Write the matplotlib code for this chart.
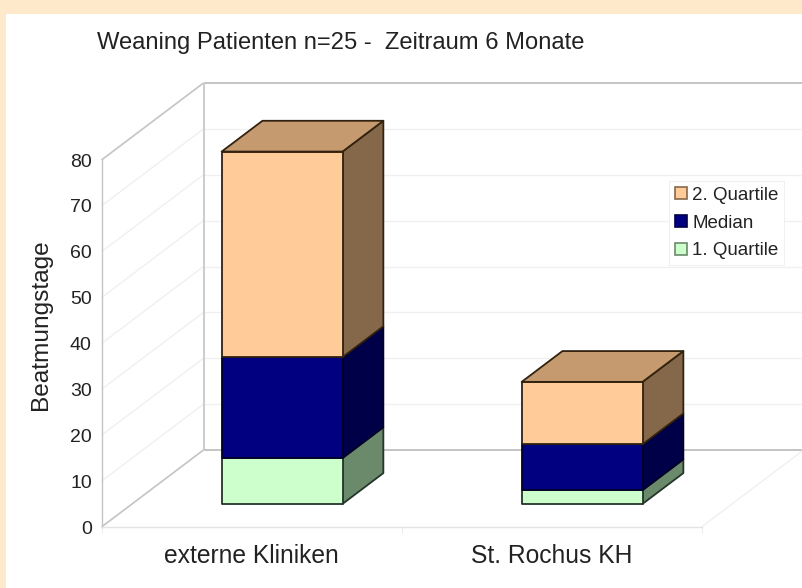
import matplotlib.pyplot as plt
from matplotlib.patches import Patch, Rectangle

plt.rcParams['font.family'] = ['Liberation Sans', 'DejaVu Sans']

# Daten
kliniken = ["externe Kliniken", "St. Rochus KH"]
serien = ["1. Quartile", "Median", "2. Quartile"]
quartil1 = [10, 3]
median = [22, 10]
quartil2 = [44.8, 13.6]
y_ticks = [0, 10, 20, 30, 40, 50, 60, 70, 80]

# Farben: Front, Deckel, Seite, Kante
FARBEN = {
    "1. Quartile": ("#CCFFCC", "#A3CCA3", "#6B8A6B", "#24352A"),
    "Median": ("#000080", "#000066", "#000048", "#000028"),
    "2. Quartile": ("#FFCC99", "#C49A6E", "#85684A", "#33220F"),
}
RAHMEN = "#FFE9CB"
WAND = "#C4C4C4"
GITTER = "#F0F0F0"

# Schraegprojektion: Tiefe 1 = 102 px nach rechts, 77 px nach oben
TIEFE_X = 102 / 300
TIEFE_Y = 77 / 367 * 80


def proj(x, y, d):
    return x + d * TIEFE_X, y + d * TIEFE_Y


def linie(ax, p1, p2, color, lw=1.0, z=1):
    ax.plot([p1[0], p2[0]], [p1[1], p2[1]], color=color, lw=lw, clip_on=False,
            zorder=z, solid_capstyle="butt")


def flaeche(ax, punkte, farbe, kante):
    xs = [p[0] for p in punkte]
    ys = [p[1] for p in punkte]
    ax.fill(xs, ys, facecolor=farbe, edgecolor=kante, lw=1.3, clip_on=False,
            zorder=3, joinstyle="round")


def quader(ax, x0, x1, y0, y1, d0, d1, name, deckel):
    front, top, seite, kante = FARBEN[name]
    flaeche(ax, [proj(x1, y0, d0), proj(x1, y0, d1), proj(x1, y1, d1), proj(x1, y1, d0)], seite, kante)
    flaeche(ax, [proj(x0, y0, d0), proj(x1, y0, d0), proj(x1, y1, d0), proj(x0, y1, d0)], front, kante)
    if deckel:
        flaeche(ax, [proj(x0, y1, d0), proj(x1, y1, d0), proj(x1, y1, d1), proj(x0, y1, d1)], top, kante)


fig = plt.figure(figsize=(8.02, 5.88), dpi=100, facecolor="white")

# Rahmen oben und links
fig.add_artist(Rectangle((0, 1 - 14 / 588), 1, 14 / 588, transform=fig.transFigure, color=RAHMEN, lw=0))
fig.add_artist(Rectangle((0, 0), 6 / 802, 1, transform=fig.transFigure, color=RAHMEN, lw=0))

ax = fig.add_axes([101.5 / 802, 61 / 588, 600 / 802, 367 / 588])
ax.patch.set_alpha(0)
ax.set_xlim(0, 2)
ax.set_ylim(0, 80)

# Gitter auf Rueck- und Seitenwand
for v in y_ticks[1:-1]:
    linie(ax, proj(0, v, 0), proj(0, v, 1), GITTER)
    linie(ax, proj(0, v, 1), proj(2, v, 1), GITTER)

linie(ax, proj(0, 80, 0), proj(0, 80, 1), WAND, 1.2)
linie(ax, proj(0, 80, 1), proj(2, 80, 1), WAND, 1.4)
linie(ax, proj(0, 0, 1), proj(0, 80, 1), WAND, 1.2)
linie(ax, proj(0, 0, 0), proj(0, 0, 1), WAND, 1.2)
linie(ax, proj(0, 0, 1), proj(2, 0, 1), WAND, 1.4)
linie(ax, proj(2, 0, 0), proj(2, 0, 1), GITTER)
linie(ax, proj(2, 0, 1), proj(2, 80, 1), GITTER)

# Saeulen
for i in range(len(kliniken)):
    x0 = i + 0.5 - 0.2015
    x1 = i + 0.5 + 0.2015
    unten = 0
    for name, werte in zip(serien, [quartil1, median, quartil2]):
        oben = unten + werte[i]
        quader(ax, x0, x1, unten, oben, 0.3, 0.7, name, name == serien[-1])
        unten = oben

ax.spines["top"].set_visible(False)
ax.spines["right"].set_visible(False)
ax.spines["left"].set_color(WAND)
ax.spines["left"].set_linewidth(1.0)
ax.spines["bottom"].set_color("#E4E4E4")
ax.spines["bottom"].set_linewidth(1.0)

ax.set_yticks(y_ticks)
ax.tick_params(axis="y", length=0, pad=7, labelsize=14, labelcolor="#222222")
ax.set_xticks([0.5, 1.5])
ax.set_xticklabels(kliniken)
ax.tick_params(axis="x", length=0, pad=12, labelsize=17.7, labelcolor="#222222")
ax.set_xticks([0, 1, 2], minor=True)
ax.tick_params(axis="x", which="minor", length=4, color="#E8E8E8")

ax.set_ylabel("Beatmungstage", fontsize=17.6, color="#222222")
ax.yaxis.set_label_coords(-49 / 600, 0.55)

fig.text(97 / 802, 1 - 43 / 588, "Weaning Patienten n=25 -  Zeitraum 6 Monate",
         fontsize=17.1, color="#222222", ha="left", va="center")

# Legende
griffe = [Patch(facecolor=FARBEN[n][0], edgecolor=FARBEN[n][2], lw=1.2, label=n) for n in serien[::-1]]
leg = fig.legend(handles=griffe, loc="upper left", bbox_to_anchor=(669 / 802, 1 - 181 / 588),
                 bbox_transform=fig.transFigure, fontsize=13.5, frameon=True, fancybox=False,
                 framealpha=1, edgecolor="#F0F0F0", facecolor="white", handlelength=0.65,
                 handleheight=0.65, handletextpad=0.28, labelspacing=0.58, borderpad=0.3,
                 borderaxespad=0, labelcolor="#222222")
leg.get_frame().set_linewidth(0.8)

fig.savefig("out.png", dpi=100)
